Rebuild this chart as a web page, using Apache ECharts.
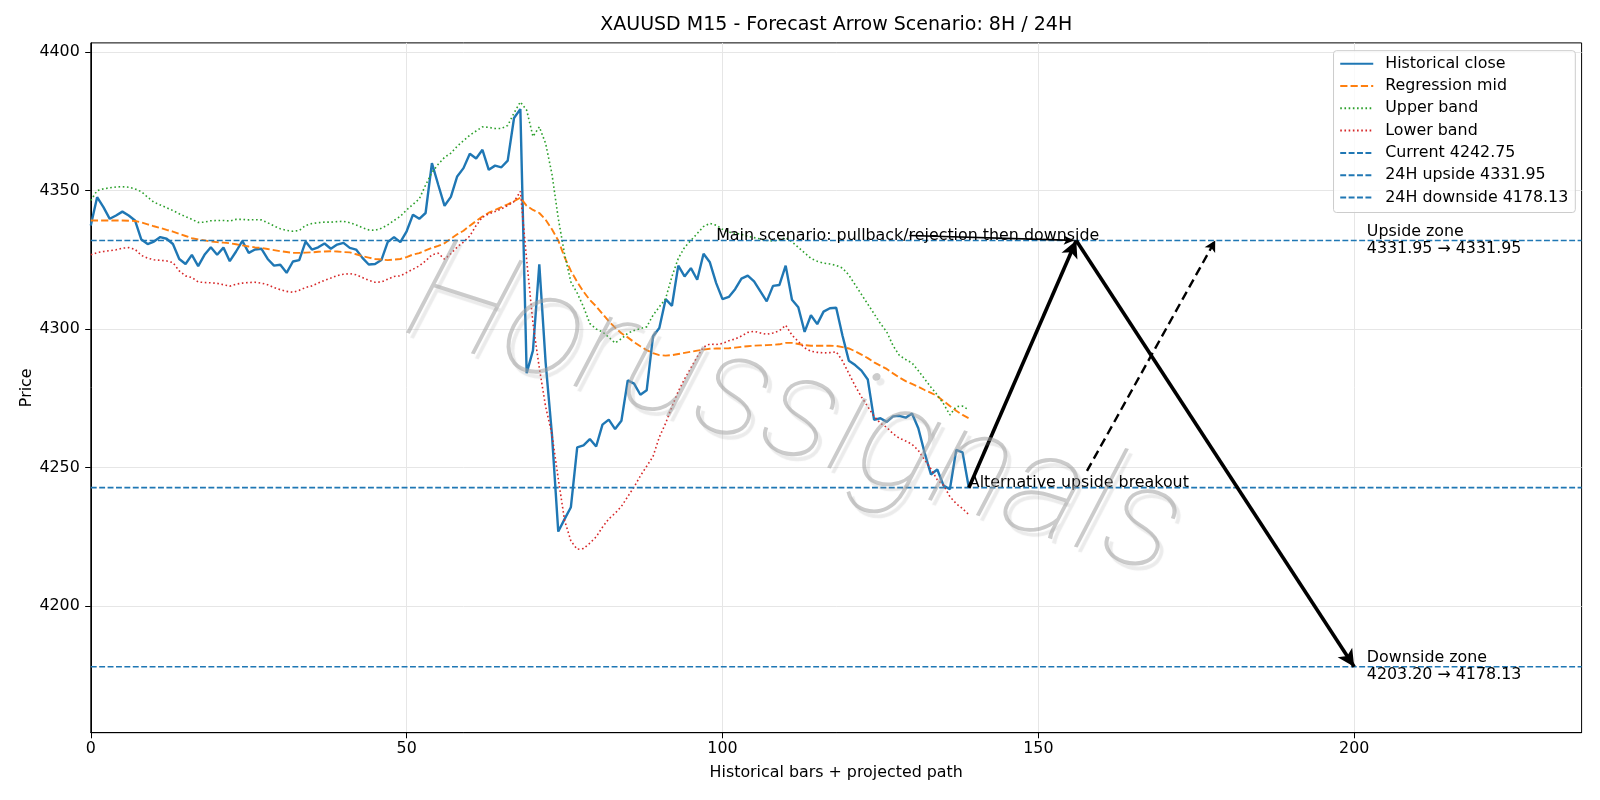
<!DOCTYPE html>
<html>
<head>
<meta charset="utf-8">
<script src="https://cdn.jsdelivr.net/npm/echarts@6.0.0/dist/echarts.min.js"></script>
<style>
  html, body { margin: 0; padding: 0; background: #fff; }
  #chart { width: 1600px; height: 800px; }
</style>
</head>
<body>
<div id="chart"></div>
<script>
// --- data ---
const closePrices = [
  4337.4, 4347.6, 4344.0, 4339.8, 4341.0, 4342.4, 4341.0, 4339.2, 4332.3, 4330.7,
  4331.6, 4333.2, 4332.6, 4330.7, 4325.3, 4323.5, 4326.8, 4322.7, 4326.8, 4329.5,
  4326.8, 4329.4, 4324.5, 4328.0, 4331.8, 4327.5, 4328.7, 4329.0, 4325.3, 4322.9,
  4323.2, 4320.3, 4324.4, 4324.9, 4331.6, 4328.7, 4329.5, 4330.9, 4329.0, 4330.5,
  4331.1, 4329.3, 4328.7, 4325.7, 4323.3, 4323.5, 4324.9, 4331.4, 4333.2, 4331.4,
  4335.3, 4341.3, 4339.8, 4341.9, 4359.9, 4352.1, 4344.5, 4347.7, 4355.1, 4358.1,
  4363.3, 4361.6, 4364.7, 4357.5, 4359.0, 4358.4, 4360.8, 4376.2, 4379.4, 4284.1,
  4292.3, 4323.4, 4288.0, 4262.0, 4226.9, 4231.4, 4235.7, 4257.3, 4258.0, 4260.3,
  4257.6, 4265.5, 4267.3, 4263.9, 4266.9, 4281.5, 4280.3, 4276.3, 4277.9, 4297.4,
  4300.4, 4310.8, 4308.4, 4322.9, 4319.0, 4322.0, 4317.8, 4327.2, 4324.1, 4316.6,
  4310.8, 4311.6, 4314.4, 4318.2, 4319.3, 4317.2, 4313.6, 4310.0, 4315.6, 4315.9,
  4322.9, 4310.6, 4307.9, 4299.0, 4305.0, 4301.8, 4306.3, 4307.5, 4307.7, 4297.6,
  4288.6, 4287.0, 4285.0, 4281.8, 4267.2, 4267.8, 4266.5, 4268.5, 4268.7, 4268.0,
  4269.5, 4264.2, 4255.3, 4247.5, 4249.3, 4243.5, 4242.2, 4256.4, 4255.5, 4242.75
];

const regressionMid = [
  4339.2, 4339.2, 4339.2, 4339.2, 4339.2, 4339.2, 4339.1, 4339.0, 4338.5, 4337.8,
  4337.1, 4336.5, 4335.8, 4335.2, 4334.4, 4333.6, 4332.8, 4332.4, 4332.0, 4331.6,
  4331.4, 4331.2, 4331.0, 4330.6, 4330.2, 4329.8, 4329.5, 4329.3, 4328.9, 4328.5,
  4328.1, 4327.8, 4327.5, 4327.5, 4327.6, 4327.7, 4327.9, 4328.0, 4328.1, 4328.0,
  4327.8, 4327.7, 4327.0, 4326.3, 4325.8, 4325.3, 4325.1, 4324.9, 4325.1, 4325.3,
  4326.0, 4326.9, 4327.4, 4328.4, 4329.3, 4330.0, 4331.0, 4332.6, 4334.2, 4335.5,
  4337.3, 4339.0, 4340.6, 4342.0, 4343.0, 4344.0, 4345.0, 4346.2, 4347.4, 4344.5,
  4343.0, 4341.9, 4339.5, 4336.0, 4332.0, 4326.0, 4321.0, 4317.0, 4313.5, 4310.5,
  4308.2, 4305.5, 4302.8, 4300.5, 4298.5, 4297.0, 4295.3, 4293.8, 4292.4, 4291.3,
  4290.6, 4290.4, 4290.6, 4291.0, 4291.4, 4291.8, 4292.2, 4292.6, 4292.9, 4293.0,
  4293.0, 4293.1, 4293.3, 4293.6, 4293.8, 4294.0, 4294.1, 4294.2, 4294.3, 4294.5,
  4295.0, 4295.0, 4294.6, 4294.2, 4294.0, 4294.0, 4294.0, 4294.0, 4293.9, 4293.5,
  4293.0, 4292.0, 4290.8, 4289.5, 4288.0, 4286.8, 4285.6, 4284.0, 4282.5, 4281.2,
  4280.2, 4279.2, 4278.0, 4277.0, 4275.8, 4274.0, 4272.2, 4270.5, 4269.0, 4267.8
];

const upperBand = [
  4346.4, 4350.0, 4350.6, 4351.0, 4351.3, 4351.4, 4351.2, 4350.6, 4349.6, 4347.6,
  4345.8, 4344.8, 4343.8, 4342.8, 4341.6, 4340.6, 4339.6, 4338.5, 4338.6, 4339.1,
  4339.2, 4339.2, 4339.0, 4339.6, 4339.6, 4339.4, 4339.5, 4339.4, 4338.4, 4337.2,
  4336.2, 4335.6, 4335.3, 4335.6, 4337.4, 4338.1, 4338.4, 4338.6, 4338.6, 4338.8,
  4338.9, 4338.4, 4337.6, 4336.6, 4335.8, 4335.6, 4336.4, 4337.6, 4339.2, 4340.7,
  4343.0, 4345.0, 4347.0, 4352.0, 4356.5, 4359.5, 4362.0, 4363.5, 4366.0, 4368.0,
  4370.0, 4371.5, 4373.0, 4372.8, 4372.4, 4372.4, 4373.5, 4378.0, 4382.0, 4379.0,
  4369.5, 4373.0, 4367.0, 4356.0, 4340.0, 4327.0, 4317.0, 4313.0, 4308.0, 4302.0,
  4300.0, 4299.0, 4297.0, 4295.0, 4296.5, 4298.5, 4299.5, 4300.2, 4300.8, 4305.0,
  4308.0, 4311.0, 4319.0, 4325.5, 4329.5, 4332.0, 4334.5, 4337.0, 4338.2, 4337.5,
  4336.0, 4335.0, 4334.6, 4334.2, 4333.5, 4333.0, 4332.5, 4332.0, 4331.8, 4332.2,
  4333.0, 4331.5, 4329.5, 4327.5, 4325.5, 4324.5, 4323.8, 4323.5, 4323.0, 4322.0,
  4319.5, 4316.0, 4312.5, 4309.0, 4305.5, 4302.0, 4299.0, 4294.0, 4290.5, 4289.0,
  4287.8, 4285.0, 4282.0, 4279.0, 4276.2, 4273.0, 4269.0, 4272.0, 4272.2, 4270.8
];

const lowerBand = [
  4326.8, 4327.6, 4328.0, 4328.3, 4328.6, 4329.2, 4329.4, 4328.8, 4326.6, 4325.6,
  4325.0, 4324.8, 4324.6, 4324.0, 4321.0, 4319.2, 4318.6, 4317.0, 4316.8, 4316.7,
  4316.5, 4316.0, 4315.5, 4316.2, 4316.6, 4316.8, 4316.9, 4316.6, 4316.0, 4315.0,
  4314.2, 4313.6, 4313.3, 4314.0, 4315.0, 4315.6, 4316.6, 4317.6, 4318.4, 4319.3,
  4319.8, 4320.0, 4319.6, 4318.6, 4317.6, 4316.9, 4317.0, 4318.0, 4319.0, 4319.2,
  4320.4, 4321.6, 4322.8, 4324.6, 4326.8, 4327.4, 4325.2, 4327.2, 4329.6, 4331.4,
  4333.6, 4337.4, 4340.4, 4341.6, 4342.4, 4343.4, 4344.6, 4346.0, 4349.7, 4325.0,
  4302.0, 4286.0, 4272.0, 4262.0, 4246.0, 4231.0, 4223.5, 4220.5, 4220.8, 4222.7,
  4225.0, 4228.5, 4231.5, 4233.5, 4236.0, 4239.5, 4243.0, 4247.0, 4250.5, 4254.0,
  4261.0, 4266.0, 4272.0, 4277.5, 4282.0, 4286.0, 4290.0, 4293.5, 4294.6, 4294.4,
  4294.8, 4295.8, 4296.4, 4297.5, 4298.8, 4299.2, 4298.6, 4298.1, 4298.6, 4299.4,
  4301.4, 4297.8, 4295.5, 4293.2, 4292.0, 4291.6, 4291.4, 4291.5, 4291.8, 4288.5,
  4284.0, 4279.5, 4275.5, 4272.0, 4268.5, 4266.0, 4264.5, 4262.2, 4260.6, 4259.6,
  4258.4, 4256.2, 4252.8, 4249.5, 4245.6, 4243.6, 4239.5, 4237.0, 4235.2, 4233.0
];

const currentPrice = 4242.75;
const upsideLevel = 4331.95;
const downsideLevel = 4178.13;
const downsideStart = 4203.20;

// projected scenario: start -> peak -> target
const mainPath = [[139, currentPrice], [156, upsideLevel], [200, downsideLevel]];
const altPath = [[157.7, 4248.8], [178, upsideLevel]];
const labelArrow = [[129.6, 4333.8], [155.6, 4332.0]];

const xTicks = [0, 50, 100, 150, 200];
const yTicks = [4200, 4250, 4300, 4350, 4400];
const X_MIN = 0, X_MAX = 236;
const Y_MIN = 4154.3, Y_MAX = 4403.3;

// --- layout ---
const FONT = 'DejaVu Sans';
const FS = 15.87;
const GRID = { left: 90.8, right: 18.4, top: 42.9, bottom: 67.3 };
const BLUE = '#1f77b4';

const pairs = arr => arr.map((v, i) => [i, v]);
const hline = v => [[X_MIN, v], [X_MAX, v]];

function lineSeries(name, data, color, width, type) {
  return {
    name: name, type: 'line', data: data, symbol: 'none', silent: true,
    lineStyle: { color: color, width: width, type: type },
    itemStyle: { color: color },
    emphasis: { disabled: true }
  };
}

const chart = echarts.init(document.getElementById('chart'));

const option = {
  animation: false,
  backgroundColor: '#fff',
  textStyle: { fontFamily: FONT },
  grid: Object.assign({ show: true, borderColor: '#000', borderWidth: 1, backgroundColor: 'transparent' }, GRID),
  xAxis: {
    type: 'value', min: X_MIN, max: X_MAX, interval: 50,
    name: 'Historical bars + projected path', nameLocation: 'middle', nameGap: 32,
    nameTextStyle: { fontSize: FS, color: '#000', fontFamily: FONT },
    axisLine: { show: true, lineStyle: { color: '#000', width: 1 } },
    axisTick: { show: true, length: 5.6, lineStyle: { color: '#000' }, customValues: xTicks },
    axisLabel: { fontSize: FS, color: '#000', margin: 8, fontFamily: FONT, customValues: xTicks },
    splitLine: { show: true, lineStyle: { color: '#e6e6e6', width: 1 } }
  },
  yAxis: {
    type: 'value', min: Y_MIN, max: Y_MAX, splitNumber: 5,
    name: 'Price', nameLocation: 'middle', nameGap: 56, nameRotate: 90, nameMoveOverlap: false,
    nameTextStyle: { fontSize: FS, color: '#000', fontFamily: FONT },
    axisLine: { show: true, lineStyle: { color: '#000', width: 1 } },
    axisTick: { show: true, length: 5.6, lineStyle: { color: '#000' }, customValues: yTicks },
    axisLabel: { fontSize: FS, color: '#000', margin: 11, fontFamily: FONT, customValues: yTicks,
                 formatter: v => String(v) },
    splitLine: { show: true, lineStyle: { color: '#e6e6e6', width: 1 } }
  },
  legend: {
    data: ['Historical close', 'Regression mid', 'Upper band', 'Lower band',
           'Current 4242.75', '24H upside 4331.95', '24H downside 4178.13'],
    orient: 'vertical', right: 24.7, top: 50.7,
    padding: [5, 7, 7, 5.7], itemGap: 6.3, itemWidth: 33, itemHeight: 14,
    backgroundColor: 'rgba(255,255,255,0.8)', borderColor: '#cccccc', borderWidth: 1, borderRadius: 3,
    itemStyle: { opacity: 0 },
    textStyle: { fontSize: FS, color: '#000', fontFamily: FONT, lineHeight: 16, padding: [0, 0, 0, 7] },
    selectedMode: false
  },
  graphic: [
    {
      type: 'text', x: GRID.left + (1600 - GRID.left - GRID.right) / 2, y: 25.5, z: 10,
      style: { text: 'XAUUSD M15 - Forecast Arrow Scenario: 8H / 24H', fontSize: 19, fontFamily: FONT,
               fill: '#000', textAlign: 'center', textVerticalAlign: 'middle' }
    },
    {
      // watermark
      type: 'text', x: 793, y: 418, rotation: -0.31, z: 100, silent: true,
      style: { text: 'Horussignals', fontSize: 146, fontFamily: 'Roboto', fontStyle: 'italic', fontWeight: 100,
               fill: 'rgba(160,160,160,0.55)',
               textAlign: 'center', textVerticalAlign: 'middle',
               textShadowColor: 'rgba(150,150,150,0.35)', textShadowOffsetX: 4, textShadowOffsetY: 5, textShadowBlur: 1 }
    }
  ],
  series: [
    lineSeries('Historical close', pairs(closePrices), BLUE, 2.4, 'solid'),
    lineSeries('Regression mid', pairs(regressionMid), '#ff7f0e', 1.9, [7.2, 3.1]),
    lineSeries('Upper band', pairs(upperBand), '#2ca02c', 1.6, [1.6, 2.6]),
    lineSeries('Lower band', pairs(lowerBand), '#d62728', 1.6, [1.6, 2.6]),
    lineSeries('Current 4242.75', hline(currentPrice), BLUE, 1.6, [5.9, 2.5]),
    lineSeries('24H upside 4331.95', hline(upsideLevel), BLUE, 1.6, [5.9, 2.5]),
    lineSeries('24H downside 4178.13', hline(downsideLevel), BLUE, 1.6, [5.9, 2.5]),
    {
      name: 'annotations', type: 'line', data: [], silent: true,
      markLine: {
        silent: true, animation: false, symbol: ['none', 'arrow'], symbolSize: [13, 17],
        label: { show: false }, emphasis: { disabled: true },
        lineStyle: { color: '#000', width: 3.6, type: 'solid' },
        data: [
          [{ coord: mainPath[0] }, { coord: mainPath[1] }],
          [{ coord: mainPath[1] }, { coord: mainPath[2] }],
          [{ coord: altPath[0], lineStyle: { type: [9, 5], width: 2.4, color: '#000' } },
           { coord: altPath[1], symbolSize: [9, 11] }],
          [{ coord: labelArrow[0], lineStyle: { width: 1.6, color: '#000', type: 'solid' } },
           { coord: labelArrow[1], symbolSize: [7, 10] }]
        ]
      },
      markPoint: {
        silent: true, animation: false, symbol: 'circle', symbolSize: 0,
        itemStyle: { color: 'transparent' },
        label: { show: true, color: '#000', fontSize: FS, fontFamily: FONT, position: [0, 0] },
        data: [
          { coord: [99, upsideLevel],
            label: { formatter: 'Main scenario: pullback/rejection then downside', align: 'left', verticalAlign: 'bottom', offset: [0, 3] } },
          { coord: [139, currentPrice],
            label: { formatter: 'Alternative upside breakout', align: 'left', verticalAlign: 'bottom', offset: [0, 3] } },
          { coord: [202, upsideLevel],
            label: { formatter: 'Upside zone\n' + upsideLevel.toFixed(2) + ' \u2192 ' + upsideLevel.toFixed(2),
                     align: 'left', verticalAlign: 'middle', lineHeight: 17 } },
          { coord: [202, downsideLevel],
            label: { formatter: 'Downside zone\n' + downsideStart.toFixed(2) + ' \u2192 ' + downsideLevel.toFixed(2),
                     align: 'left', verticalAlign: 'middle', lineHeight: 17 } }
        ]
      }
    }
  ]
};

chart.setOption(option);
</script>
</body>
</html>
